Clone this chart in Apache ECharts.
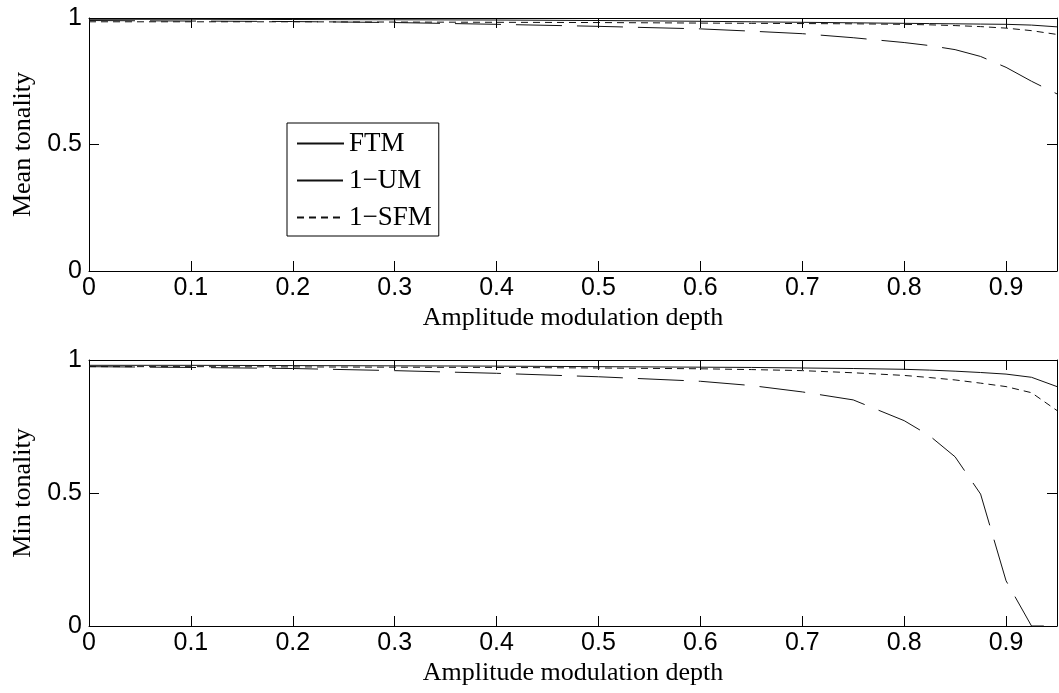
<!DOCTYPE html>
<html>
<head>
<meta charset="utf-8">
<script src="https://cdn.jsdelivr.net/npm/echarts@6/dist/echarts.min.js"></script>
<style>html,body{margin:0;padding:0;background:#fff}#c{width:1059px;height:693px}</style>
</head>
<body>
<div id="c"></div>
<script>
// Amplitude modulation depth samples
var depth = [0, 0.1, 0.2, 0.3, 0.4, 0.5, 0.6, 0.65, 0.7, 0.75, 0.8, 0.825, 0.85, 0.875, 0.9, 0.925, 0.95];
// Mean tonality
var meanFTM = [0.995,0.995,0.994,0.993,0.992,0.99,0.987,0.985,0.983,0.981,0.979,0.978,0.977,0.976,0.975,0.972,0.965];
var meanUM  = [0.99,0.988,0.986,0.982,0.975,0.967,0.957,0.948,0.938,0.922,0.903,0.891,0.875,0.848,0.805,0.75,0.70];
var meanSFM = [0.985,0.985,0.985,0.984,0.983,0.982,0.98,0.979,0.978,0.977,0.975,0.973,0.97,0.966,0.96,0.95,0.935];
// Min tonality
var minFTM = [0.98,0.98,0.979,0.978,0.977,0.975,0.973,0.972,0.97,0.968,0.965,0.962,0.958,0.953,0.947,0.935,0.9];
var minUM  = [0.975,0.972,0.968,0.96,0.95,0.937,0.92,0.904,0.88,0.85,0.772,0.715,0.636,0.496,0.17,0.0,0.0];
var minSFM = [0.975,0.975,0.974,0.973,0.972,0.97,0.967,0.964,0.96,0.952,0.942,0.934,0.925,0.913,0.9,0.877,0.81];
var names = ['FTM', '1\u2212UM', '1\u2212SFM'];
var xTitle = 'Amplitude modulation depth';
var yTitles = ['Mean tonality', 'Min tonality'];

function pairs(ys){ return depth.map(function(d,i){ return [d, ys[i]]; }); }

var serif = 'Liberation Serif';
var sans = 'Liberation Sans';
var lineCol = '#000';

function xAx(grid, pos){
  var main = pos === 'bottom';
  return {
    type:'value', gridIndex:grid, position:pos, min:0, max:0.95, interval:0.1,
    name: main ? xTitle : '', nameLocation:'middle', nameGap:34,
    nameTextStyle:{fontFamily:serif, fontSize:26, color:'#000'},
    axisLine:{show:true, onZero:false, lineStyle:{color:lineCol, width:1}},
    axisTick:{show:true, inside:true, length:10, lineStyle:{color:lineCol, width:1}},
    axisLabel:{show:main, fontFamily:sans, fontSize:25, color:'#000', margin:5, showMaxLabel:false,
      formatter:function(v){ return String(Math.round(v*10)/10); }},
    splitLine:{show:false}
  };
}
function yAx(grid, pos){
  var main = pos === 'left';
  return {
    type:'value', gridIndex:grid, position:pos, min:0, max:1, interval:0.5,
    name: main ? yTitles[grid] : '', nameLocation:'middle', nameGap:53, nameRotate:90,
    nameTextStyle:{fontFamily:serif, fontSize:26, color:'#000'},
    axisLine:{show:true, onZero:false, lineStyle:{color:lineCol, width:1}},
    axisTick:{show:true, inside:true, length:10, lineStyle:{color:lineCol, width:1}},
    axisLabel:{show:main, fontFamily:sans, fontSize:25, color:'#000', margin:7},
    splitLine:{show:false}
  };
}
function ser(name, grid, ys, dash){
  return {
    type:'line', name:name, xAxisIndex:grid*2, yAxisIndex:grid*2, data:pairs(ys),
    symbol:'none', showSymbol:false, animation:false, silent:true,
    lineStyle:{color:'#111', width:1, type:dash}
  };
}

var chart = echarts.init(document.getElementById('c'), null, {renderer:'canvas'});
chart.setOption({
  animation:false,
  backgroundColor:'#fff',
  grid:[
    {left:89, right:2, top:18, height:253},
    {left:89, right:2, top:360, height:266}
  ],
  xAxis:[xAx(0,'bottom'), xAx(0,'top'), xAx(1,'bottom'), xAx(1,'top')],
  yAxis:[yAx(0,'left'), yAx(0,'right'), yAx(1,'left'), yAx(1,'right')],
  legend:{
    data:names, orient:'vertical', left:287, top:123,
    padding:[7,7,5,9], itemGap:10, itemWidth:47, itemHeight:22,
    selectedMode:false, borderColor:'#000', borderWidth:1, backgroundColor:'#fff',
    textStyle:{fontFamily:serif, fontSize:27, lineHeight:26, color:'#000'},
    itemStyle:{opacity:0}
  },
  series:[
    ser(names[0],0,meanFTM,'solid'),
    ser(names[1],0,meanUM,[46,15]),
    ser(names[2],0,meanSFM,[7,5]),
    ser(names[0],1,minFTM,'solid'),
    ser(names[1],1,minUM,[46,15]),
    ser(names[2],1,minSFM,[7,5])
  ]
});
</script>
</body>
</html>
